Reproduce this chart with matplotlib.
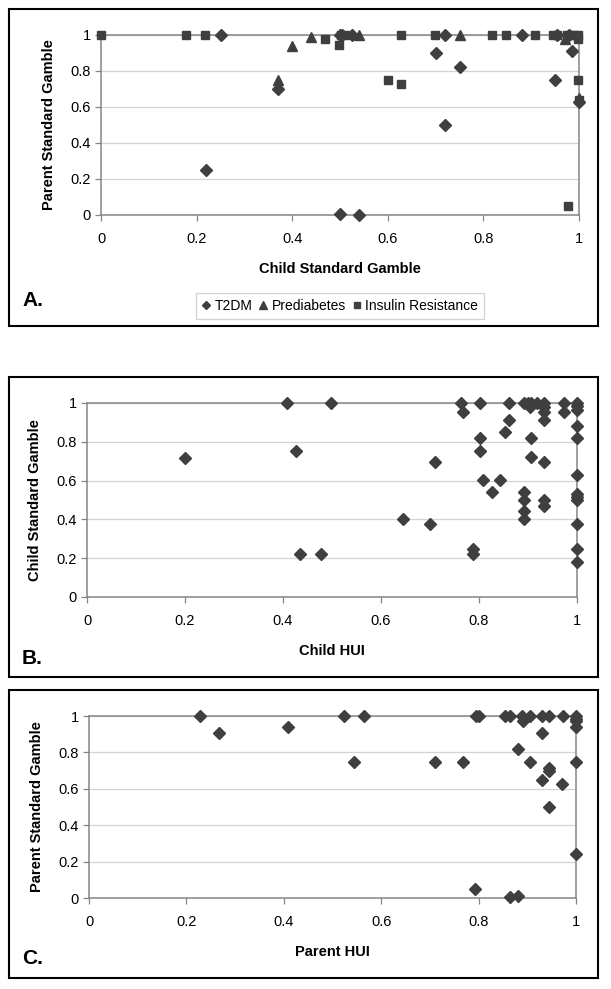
import matplotlib
matplotlib.use("Agg")
import matplotlib.pyplot as plt
from matplotlib.patches import Rectangle
from matplotlib.ticker import FuncFormatter

plt.rcParams['font.family'] = ['Liberation Sans', 'DejaVu Sans']

# panel A: child SG vs parent SG, by diagnosis
t2dm_x = [0.25, 0.37, 0.22, 0.50, 0.505, 0.525, 0.50, 0.54, 0.70, 0.72, 0.72, 0.75,
          0.88, 0.955, 0.95, 0.985, 0.98, 1.0]
t2dm_y = [1, 0.70, 0.25, 1, 1, 1, 0.005, 0.0, 0.90, 1, 0.50, 0.82,
          1, 1, 0.75, 0.91, 1, 0.63]
pre_x = [0.37, 0.40, 0.44, 0.54, 0.75, 0.97, 1.0]
pre_y = [0.75, 0.94, 0.99, 1, 1, 0.975, 0.65]
ir_x = [0.0, 0.178, 0.218, 0.468, 0.497, 0.503, 0.51, 0.628, 0.698, 0.817, 0.847,
        0.907, 0.945, 0.953, 0.975, 0.982, 0.99, 0.997, 0.997, 0.60, 0.628, 0.997,
        0.977, 1.0]
ir_y = [1, 1, 1, 0.98, 0.945, 1, 1, 1, 1, 1, 1,
        1, 1, 1, 1, 1, 1, 1, 0.98, 0.75, 0.725, 0.75,
        0.05, 0.64]

# panel B: child HUI vs child SG
child_hui = [0.408, 0.498, 0.201, 0.427, 0.435, 0.478,
             0.764, 0.767, 0.803, 0.862, 0.862, 0.853, 0.803, 0.803, 0.71, 0.808,
             0.843, 0.827, 0.644, 0.70, 0.788, 0.788,
             0.891, 0.901, 0.906, 0.918, 0.932, 0.905, 0.932, 0.932, 0.932, 0.906,
             0.906, 0.932, 0.891, 0.891, 0.891, 0.891, 0.932, 0.932, 0.974, 0.974,
             1, 1, 1, 1, 1, 1, 1, 1, 1, 1, 1, 1]
child_sg = [1, 1, 0.718, 0.754, 0.223, 0.223,
            1, 0.952, 1, 1, 0.91, 0.85, 0.821, 0.754, 0.697, 0.601,
            0.601, 0.539, 0.402, 0.374, 0.25, 0.222,
            1, 1, 1, 1, 1, 0.979, 0.979, 0.952, 0.91, 0.821,
            0.72, 0.697, 0.539, 0.502, 0.441, 0.402, 0.502, 0.47, 1, 0.952,
            1, 0.983, 0.962, 0.883, 0.821, 0.629, 0.532, 0.515, 0.498, 0.374, 0.25, 0.182]

# panel C: parent HUI vs parent SG
parent_hui = [0.228, 0.267, 0.409, 0.524, 0.565, 0.545, 0.71, 0.767, 0.795, 0.80,
              0.793, 0.854, 0.864, 0.864, 0.88, 0.89, 0.892, 0.906, 0.88, 0.93,
              0.945, 0.93, 0.906, 0.944, 0.945, 0.93, 0.972, 0.945, 0.973,
              1, 1, 1, 1, 1, 1]
parent_sg = [1, 0.907, 0.937, 1, 1, 0.745, 0.745, 0.745, 1, 1,
             0.051, 1, 1, 0.005, 0.013, 1, 0.973, 1, 0.818, 1,
             1, 0.906, 0.745, 0.716, 0.697, 0.648, 0.625, 0.499, 1,
             1, 0.986, 0.973, 0.937, 0.745, 0.244]

ticks = [0, 0.2, 0.4, 0.6, 0.8, 1]
W, H = 611, 989
MC = '#3f3f3f'

fig = plt.figure(figsize=(W / 100, H / 100), dpi=100)


def rect(x0, x1, ytop, ybot):
    return [x0 / W, 1 - ybot / H, (x1 - x0) / W, (ybot - ytop) / H]


def frame(x0, ytop, x1, ybot, letter, ly):
    fig.patches.append(Rectangle((x0 / W, 1 - ybot / H), (x1 - x0) / W, (ybot - ytop) / H,
                                 transform=fig.transFigure, fill=False,
                                 edgecolor='black', lw=1.5))
    fig.text(22 / W, 1 - ly / H, letter, fontsize=15, fontweight='bold', va='center')


def style(ax, xlabel, ylabel):
    ax.set_xlim(0, 1)
    ax.set_ylim(0, 1)
    ax.set_xticks(ticks)
    ax.set_yticks(ticks)
    fmt = FuncFormatter(lambda v, p: f"{v:g}")
    ax.xaxis.set_major_formatter(fmt)
    ax.yaxis.set_major_formatter(fmt)
    ax.grid(axis='y', color='#d4d4d4', lw=0.9)
    ax.set_axisbelow(True)
    for s in ax.spines.values():
        s.set_color('#858585')
        s.set_linewidth(1.1)
    ax.tick_params(colors='#858585', labelcolor='black', labelsize=10.5,
                   length=4, width=0.9)
    ax.tick_params(axis='x', pad=8)
    ax.set_xlabel(xlabel, fontsize=10.5, fontweight='bold', labelpad=12)
    ax.set_ylabel(ylabel, fontsize=10.5, fontweight='bold', labelpad=10)


# panel A
frame(9, 9, 598, 326, 'A.', 300)
axA = fig.add_axes(rect(101, 579, 35, 215))
axA.plot(t2dm_x, t2dm_y, 'D', color=MC, ms=6, clip_on=False, label='T2DM', zorder=3)
axA.plot(pre_x, pre_y, '^', color=MC, ms=7.5, clip_on=False, label='Prediabetes', zorder=3)
axA.plot(ir_x, ir_y, 's', color=MC, ms=6, clip_on=False, label='Insulin Resistance', zorder=3)
style(axA, 'Child Standard Gamble', 'Parent Standard Gamble')
leg = fig.legend(loc='center', bbox_to_anchor=(340 / W, 1 - 306 / H), ncol=3,
                 fontsize=10, frameon=True, fancybox=False, handlelength=0.6,
                 handletextpad=0.3, columnspacing=0.5, markerscale=0.7,
                 borderpad=0.45)
leg.get_frame().set_edgecolor('#c8c8c8')
leg.get_frame().set_linewidth(0.9)

# panel B
frame(9, 377, 598, 677, 'B.', 658)
axB = fig.add_axes(rect(87, 577, 403, 597))
axB.plot(child_hui, child_sg, 'D', color=MC, ms=6, clip_on=False, zorder=3)
style(axB, 'Child HUI', 'Child Standard Gamble')

# panel C
frame(9, 690, 598, 978, 'C.', 958)
axC = fig.add_axes(rect(89, 576, 716, 898))
axC.plot(parent_hui, parent_sg, 'D', color=MC, ms=6, clip_on=False, zorder=3)
style(axC, 'Parent HUI', 'Parent Standard Gamble')

fig.savefig('out.png', dpi=100)
